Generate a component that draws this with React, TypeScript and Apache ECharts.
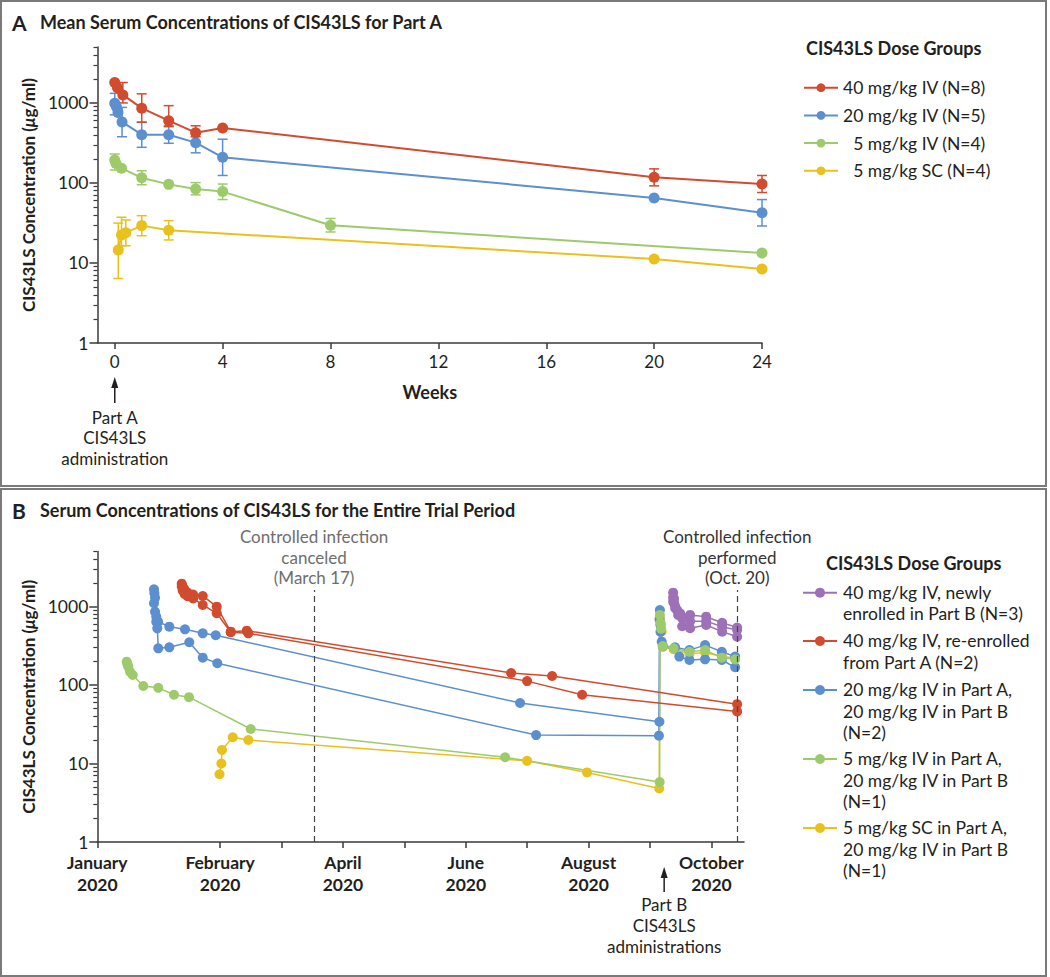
import React, { useEffect, useRef } from 'react';
import * as echarts from 'echarts';

const FONT = 'Lato, "Noto Sans", sans-serif';
const INK = '#231f20';
const AXIS = '#3a3a3a';
const COLORS = { red: '#d14b2e', blue: '#5b8fd0', green: '#9dcb6c', yellow: '#e9c11d', purple: '#9d70b8' };

// ---------- Panel A ----------
const weekTicks = [0, 4, 8, 12, 16, 20, 24];
const logMajor = [1, 10, 100, 1000];
const logMinor = [2, 3, 4, 5, 6, 7, 8, 9, 20, 30, 40, 50, 60, 70, 80, 90, 200, 300, 400, 500, 600, 700, 800, 900, 2000, 3000, 4000, 5000];

const groupsA = ['40 mg/kg IV (N=8)', '20 mg/kg IV (N=5)', '\u20075 mg/kg IV (N=4)', '\u20075 mg/kg SC (N=4)'];

const redWeeks = [0, 0.1, 0.3, 1, 2, 3, 4, 20, 24];
const redMean = [1800, 1550, 1260, 860, 600, 425, 487, 118, 97];
const redErr = [[0.3, 1000, 1800], [1, 575, 1300], [2, 505, 925], [3, 378, 518], [20, 92, 150], [24, 76, 124]];

const blueWeeks = [0, 0.06, 0.12, 0.27, 1, 2, 3, 4, 20, 24];
const blueMean = [990, 896, 757, 579, 401, 401, 319, 209, 65, 42.5];
const blueErr = [[0, 710, 1318], [0.27, 378, 880], [1, 279, 574], [2, 313, 518], [3, 238, 438], [4, 124, 352], [24, 29, 62]];

const greenWeeks = [0, 0.04, 0.25, 1, 2, 3, 4, 8, 24];
const greenMean = [194, 176, 153, 116, 96, 84, 78, 29.6, 13.3];
const greenErr = [[0, 145, 230], [1, 95, 142], [3, 71, 101], [4, 62, 97], [8, 24.4, 36]];

const yellowWeeks = [0.13, 0.25, 0.41, 1, 2, 20, 24];
const yellowMean = [14.5, 22.4, 23.9, 29.3, 25.6, 11.2, 8.4];
const yellowErr = [[0.13, 6.4, 31.5], [0.25, 16.4, 37.3], [0.41, 16.4, 34.5], [1, 21.9, 39], [2, 19.4, 33.8]];

// ---------- Panel B ----------
const monthTicks = [0, 2, 3, 4, 5, 6, 7, 8, 9, 10];
const monthLabelPos = [0, 2, 4, 6, 8, 10];
const monthLabels = ['January\n2020', 'February\n2020', 'April\n2020', 'June\n2020', 'August\n2020', 'October\n2020'];

const groupsB = [
  '40 mg/kg IV, newly\nenrolled in Part B (N=3)',
  '40 mg/kg IV, re-enrolled\nfrom Part A (N=2)',
  '20 mg/kg IV in Part A,\n20 mg/kg IV in Part B\n(N=2)',
  '5 mg/kg IV in Part A,\n20 mg/kg IV in Part B\n(N=1)',
  '5 mg/kg SC in Part A,\n20 mg/kg IV in Part B\n(N=1)',
];
const colorsB = [COLORS.purple, COLORS.red, COLORS.blue, COLORS.green, COLORS.yellow];

const purpleB1 = [[9.376, 1500], [9.39, 1250], [9.41, 1000], [9.49, 820], [9.653, 780], [9.914, 741], [10.174, 620], [10.418, 540]];
const purpleB2 = [[9.376, 1300], [9.393, 1100], [9.44, 900], [9.523, 707], [9.653, 650], [9.914, 650], [10.174, 553], [10.418, 501]];
const purpleB3 = [[9.376, 1150], [9.41, 950], [9.458, 780], [9.523, 560], [9.653, 528], [9.914, 581], [10.174, 478], [10.418, 412]];

const redB1 = [[1.375, 1950], [1.39, 1800], [1.42, 1650], [1.47, 1500], [1.56, 1420], [1.717, 1361], [1.945, 995], [2.173, 478], [2.433, 492], [6.738, 142], [7.405, 130], [10.418, 57]];
const redB2 = [[1.375, 1800], [1.39, 1600], [1.42, 1450], [1.47, 1350], [1.56, 1262], [1.717, 1045], [1.945, 819], [2.173, 470], [2.459, 455], [6.998, 112], [7.894, 75], [10.418, 46]];

const blueB1 = [[0.923, 1656], [0.93, 1473], [0.94, 1294], [0.96, 742], [0.99, 640], [1.173, 553], [1.428, 512], [1.717, 455], [1.928, 430], [6.884, 59], [9.153, 34], [9.16, 900], [9.17, 580], [9.208, 314], [9.407, 302], [9.642, 278], [9.896, 322], [10.169, 265], [10.386, 230]];
const blueB2 = [[0.923, 1100], [0.94, 859], [0.96, 640], [0.977, 527], [0.993, 293], [1.173, 302], [1.498, 350], [1.717, 223], [1.954, 189], [7.145, 23], [9.145, 22.6], [9.155, 680], [9.17, 478], [9.19, 356], [9.477, 230], [9.642, 208], [9.896, 212], [10.169, 208], [10.386, 168]];

const greenB = [[0.479, 198], [0.49, 185], [0.505, 171], [0.533, 147], [0.577, 134], [0.749, 97], [0.993, 92], [1.249, 75], [1.493, 70], [2.498, 27.5], [6.64, 12], [9.156, 5.8], [9.16, 780], [9.17, 620], [9.18, 520], [9.208, 314], [9.385, 293], [9.642, 265], [9.896, 278], [10.169, 223], [10.386, 212]];
const yellowB = [[1.99, 7.3], [2.02, 10], [2.03, 14.9], [2.205, 21.6], [2.459, 19.9], [6.998, 10.8], [7.974, 7.7], [9.15, 4.8], [9.158, 720], [9.17, 600], [9.19, 480], [9.208, 305], [9.385, 285], [9.642, 250], [9.896, 260], [10.169, 230], [10.386, 220]];

const canceledAt = 3.53;
const performedAt = 10.42;
const dashTop = 1620;
const partAAt = 0;
const partBAt = 9.23;

const zip = (xs: number[], ys: number[]) => xs.map((x, i) => [x, ys[i]]);

function errSeries(data: number[][], color: string) {
  return {
    type: 'custom', xAxisIndex: 0, yAxisIndex: 0, z: 2, silent: true, data,
    encode: { x: 0, y: [1, 2] },
    renderItem: (params: any, api: any) => {
      const x = api.value(0), lo = api.value(1), hi = api.value(2);
      const top = api.coord([x, hi]);
      const bot = api.coord([x, lo]);
      const w = 5;
      const st = { stroke: color, lineWidth: 1.5 };
      return {
        type: 'group', children: [
          { type: 'line', shape: { x1: top[0], y1: top[1], x2: bot[0], y2: bot[1] }, style: st },
          { type: 'line', shape: { x1: top[0] - w, y1: top[1], x2: top[0] + w, y2: top[1] }, style: st },
          { type: 'line', shape: { x1: bot[0] - w, y1: bot[1], x2: bot[0] + w, y2: bot[1] }, style: st },
        ],
      };
    },
  };
}

function lineA(name: string, xs: number[], ys: number[], color: string, z: number) {
  return {
    name, type: 'line', xAxisIndex: 0, yAxisIndex: 0, data: zip(xs, ys), z,
    symbol: 'circle', symbolSize: 11, lineStyle: { color, width: 2 }, itemStyle: { color },
    emphasis: { disabled: true },
  };
}

function lineB(name: string, pts: number[][], color: string, extra: any = {}) {
  return {
    name, type: 'line', xAxisIndex: 1, yAxisIndex: 2, data: pts,
    symbol: 'circle', symbolSize: 10, lineStyle: { color, width: 1.5 }, itemStyle: { color },
    emphasis: { disabled: true }, ...extra,
  };
}

const nameStyle = {
  fontSize: 17, fontWeight: 'bold', color: INK, fontFamily: FONT,
  rich: { i: { fontStyle: 'italic', fontWeight: 'bold', fontSize: 17, color: INK, fontFamily: FONT } },
};

function yMajor(gridIndex: number) {
  return {
    type: 'log', logBase: 10, gridIndex, min: 1, max: 5000, position: 'left',
    axisLine: { show: true, onZero: false, lineStyle: { color: AXIS, width: 1.5 } },
    axisTick: { show: true, customValues: logMajor, length: 8, lineStyle: { color: AXIS, width: 1.5 } },
    axisLabel: { customValues: logMajor, formatter: (v: number) => String(Math.round(v)), fontSize: 17.5, color: INK, margin: 9, fontFamily: FONT },
    splitLine: { show: false }, minorTick: { show: false },
    name: 'CIS43LS Concentration ({i|\u03bc}g/ml)', nameLocation: 'middle', nameGap: 48, nameTextStyle: nameStyle,
  };
}
function yMinor(gridIndex: number) {
  return {
    type: 'log', logBase: 10, gridIndex, min: 1, max: 5000, position: 'left',
    axisLine: { show: false, onZero: false },
    axisTick: { show: true, customValues: logMinor, length: 4, lineStyle: { color: AXIS, width: 1.2 } },
    axisLabel: { show: false }, splitLine: { show: false },
  };
}

const markLineLabel = (text: string, color: string) => ({
  show: true, position: 'end', formatter: text, color, fontSize: 17, lineHeight: 20.5,
  fontFamily: FONT, distance: 2, align: 'center',
});

export default function App() {
  const ref = useRef<HTMLDivElement>(null);
  useEffect(() => {
    if (!ref.current) return;
    const chart = echarts.init(ref.current, null, { renderer: 'svg' });
    const option: any = {
      animation: false,
      backgroundColor: '#ffffff',
      textStyle: { fontFamily: FONT },
      grid: [
        { left: 97.5, top: 47, width: 664.5, height: 296 },
        { left: 97.3, top: 551.6, width: 646.7, height: 290.4 },
      ],
      xAxis: [
        {
          type: 'value', gridIndex: 0, min: -0.64, max: 24,
          axisLine: { show: true, onZero: false, lineStyle: { color: AXIS, width: 1.5 } },
          axisTick: { show: true, customValues: weekTicks, length: 6, lineStyle: { color: AXIS, width: 1.5 } },
          axisLabel: { customValues: weekTicks, fontSize: 17, color: INK, margin: 10, fontFamily: FONT },
          splitLine: { show: false },
          name: 'Weeks', nameLocation: 'middle', nameGap: 40,
          nameTextStyle: { fontSize: 18, fontWeight: 'bold', color: INK, fontFamily: FONT },
        },
        {
          type: 'value', gridIndex: 1, min: 0, max: 10.53,
          axisLine: { show: true, onZero: false, lineStyle: { color: AXIS, width: 1.5 } },
          axisTick: { show: true, customValues: monthTicks, length: 6, lineStyle: { color: AXIS, width: 1.5 } },
          axisLabel: {
            customValues: monthLabelPos,
            formatter: (v: number) => monthLabels[monthLabelPos.indexOf(Math.round(v))] ?? '',
            fontSize: 17.5, fontWeight: 'bold', lineHeight: 22, color: INK, margin: 9, fontFamily: FONT,
          },
          splitLine: { show: false },
        },
      ],
      yAxis: [yMajor(0), yMinor(0), yMajor(1), yMinor(1)],
      legend: {
        data: groupsA, orient: 'vertical', left: 803, top: 77.7, itemWidth: 34, itemHeight: 11, itemGap: 7.7,
        padding: 0, selectedMode: false,
        textStyle: { fontSize: 17.5, color: INK, fontFamily: FONT, lineHeight: 20 },
      },
      series: [
        errSeries(yellowErr, COLORS.yellow),
        errSeries(greenErr, COLORS.green),
        errSeries(blueErr, COLORS.blue),
        errSeries(redErr, COLORS.red),
        lineA(groupsA[3], yellowWeeks, yellowMean, COLORS.yellow, 3),
        lineA(groupsA[2], greenWeeks, greenMean, COLORS.green, 4),
        lineA(groupsA[1], blueWeeks, blueMean, COLORS.blue, 5),
        lineA(groupsA[0], redWeeks, redMean, COLORS.red, 6),
        lineB(groupsB[4], yellowB, COLORS.yellow, {
          markLine: {
            silent: true, symbol: ['none', 'none'],
            lineStyle: { type: [6, 4], color: '#444', width: 1.2 },
            data: [
              [{ coord: [canceledAt, 1], label: markLineLabel('Controlled infection\ncanceled\n(March 17)', '#6e6e6e') }, { coord: [canceledAt, dashTop] }],
              [{ coord: [performedAt, 1], label: markLineLabel('Controlled infection\nperformed\n(Oct. 20)', '#333333') }, { coord: [performedAt, dashTop] }],
            ],
          },
        }),
        lineB(groupsB[2], blueB1, COLORS.blue),
        lineB(groupsB[2], blueB2, COLORS.blue),
        lineB(groupsB[3], greenB, COLORS.green),
        lineB(groupsB[1], redB1, COLORS.red),
        lineB(groupsB[1], redB2, COLORS.red),
        lineB(groupsB[0], purpleB1, COLORS.purple),
        lineB(groupsB[0], purpleB2, COLORS.purple),
        lineB(groupsB[0], purpleB3, COLORS.purple),
      ],
    };
    chart.setOption(option);

    const txt = (x: number, y: number, text: string, opts: any = {}) => ({
      type: 'text', x, y, silent: true,
      style: {
        text, fill: INK, fontFamily: FONT, fontSize: 17,
        align: opts.align || 'left', textAlign: opts.align || 'left',
        verticalAlign: opts.v || 'middle', textVerticalAlign: opts.v || 'middle',
        ...opts.style,
      },
    });
    const arrow = (x: number, tipY: number, tailY: number) => ([
      { type: 'line', silent: true, shape: { x1: x, y1: tipY + 8, x2: x, y2: tailY }, style: { stroke: INK, lineWidth: 1.5 } },
      { type: 'polygon', silent: true, shape: { points: [[x, tipY], [x - 3.5, tipY + 11], [x + 3.5, tipY + 11]] }, style: { fill: INK } },
    ]);

    const pA = chart.convertToPixel({ gridIndex: 0 }, [partAAt, 1]) as number[];
    const pB = chart.convertToPixel({ gridIndex: 1 }, [partBAt, 1]) as number[];

    const legendYs = [592.7, 641, 690, 759, 828];
    const legendB: any[] = [];
    groupsB.forEach((g, i) => {
      const y = legendYs[i];
      legendB.push({ type: 'line', silent: true, shape: { x1: 803, y1: y, x2: 837, y2: y }, style: { stroke: colorsB[i], lineWidth: 2 } });
      legendB.push({ type: 'circle', silent: true, shape: { cx: 820, cy: y, r: 5 }, style: { fill: colorsB[i] } });
      legendB.push(txt(843, y - 11, g, { v: 'top', style: { lineHeight: 21.5, fontSize: 17.5 } }));
    });

    chart.setOption({
      graphic: [
        { type: 'rect', silent: true, shape: { x: 1, y: 1, width: 1045, height: 485 }, style: { fill: 'none', stroke: '#7a7a7a', lineWidth: 2 } },
        { type: 'rect', silent: true, shape: { x: 1, y: 489, width: 1045, height: 487 }, style: { fill: 'none', stroke: '#7a7a7a', lineWidth: 2 } },
        txt(12, 22, 'A', { style: { fontSize: 21, fontWeight: 'bold' } }),
        txt(40, 22, 'Mean Serum Concentrations of CIS43LS for Part A', { style: { fontSize: 18, fontWeight: 'bold' } }),
        txt(12, 510, 'B', { style: { fontSize: 21, fontWeight: 'bold' } }),
        txt(40, 510, 'Serum Concentrations of CIS43LS for the Entire Trial Period', { style: { fontSize: 18, fontWeight: 'bold' } }),
        txt(806, 48, 'CIS43LS Dose Groups', { style: { fontSize: 18, fontWeight: 'bold' } }),
        txt(826, 563, 'CIS43LS Dose Groups', { style: { fontSize: 18, fontWeight: 'bold' } }),
        ...arrow(pA[0], 377, 403),
        txt(pA[0], 407, 'Part A\nCIS43LS\nadministration', { align: 'center', v: 'top', style: { lineHeight: 20.5 } }),
        ...arrow(pB[0], 867, 892),
        txt(pB[0], 894, 'Part B\nCIS43LS\nadministrations', { align: 'center', v: 'top', style: { lineHeight: 21 } }),
        ...legendB,
      ],
    });
    return () => chart.dispose();
  }, []);
  return <div ref={ref} style={{ position: 'absolute', left: 0, top: 0, width: 1050, height: 977, background: '#fff' }} />;
}
